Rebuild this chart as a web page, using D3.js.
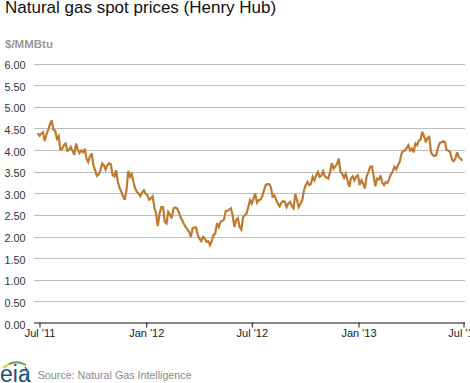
<!DOCTYPE html>
<html><head><meta charset="utf-8">
<style>html,body{margin:0;padding:0;background:#fff;overflow:hidden}svg{display:block}text{font-family:"Liberation Sans",Arial,sans-serif}</style>
<script src="https://cdn.jsdelivr.net/npm/d3@7/dist/d3.min.js"></script>
</head><body><svg id="c" width="470" height="383"></svg>
<script>
const titleText = "Natural gas spot prices (Henry Hub)";
const unitText = "$/MMBtu";
const sourceText = "Source: Natural Gas Intelligence";
const yTicks = [0,0.5,1,1.5,2,2.5,3,3.5,4,4.5,5,5.5,6];
const xTickDates = ["2011-07-01","2012-01-01","2012-07-01","2013-01-01","2013-07-01"];
const xTickLabels = ["Jul '11","Jan '12","Jul '12","Jan '13","Jul '13"];
const firstDate = "2011-06-28";
const stepDays = 3;
const prices = [
4.39,4.33,4.38,4.41,4.21,4.36,4.47,4.59,4.69,4.47,4.45,4.26,4.32,4.01,4.02,4.11,4.15,3.98,4.0,4.07,
3.98,3.89,4.15,4.01,3.93,3.99,3.95,4.03,3.80,3.72,3.85,3.92,3.65,3.53,3.40,3.43,3.53,3.69,3.65,3.55,
3.65,3.69,3.67,3.42,3.39,3.53,3.26,3.13,3.03,2.93,2.85,3.07,3.52,3.38,3.45,3.26,3.11,3.03,2.99,2.93,
3.02,3.07,2.99,2.95,2.85,2.88,2.93,2.68,2.53,2.24,2.53,2.68,2.68,2.34,2.30,2.57,2.51,2.42,2.65,2.67,
2.65,2.57,2.45,2.38,2.29,2.22,2.16,2.11,1.99,2.19,2.21,2.21,2.03,1.95,1.89,1.99,1.95,1.88,1.89,1.80,
1.90,2.03,2.07,2.31,2.22,2.34,2.36,2.39,2.59,2.59,2.62,2.65,2.49,2.22,2.38,2.42,2.22,2.16,2.45,2.49,
2.53,2.68,2.84,2.76,2.88,2.99,2.78,2.84,2.85,2.93,3.07,3.19,3.21,3.21,3.13,2.92,2.95,2.85,2.76,2.70,
2.78,2.82,2.80,2.68,2.76,2.80,2.70,2.65,2.98,2.84,2.68,2.76,2.84,3.07,3.19,3.26,3.19,3.22,3.38,3.30,
3.41,3.49,3.38,3.41,3.51,3.39,3.36,3.34,3.49,3.70,3.57,3.62,3.68,3.80,3.49,3.45,3.36,3.45,3.30,3.15,
3.34,3.39,3.30,3.39,3.42,3.19,3.30,3.22,3.11,3.39,3.49,3.61,3.62,3.41,3.16,3.34,3.32,3.41,3.24,3.19,
3.26,3.24,3.34,3.44,3.51,3.61,3.55,3.65,3.72,3.91,3.98,3.99,4.05,4.11,3.99,4.03,3.95,4.15,4.11,4.22,
4.24,4.42,4.32,4.18,4.28,4.30,3.95,3.88,3.86,3.88,4.05,4.16,4.18,4.20,4.18,4.00,3.99,3.95,3.78,3.74,
3.80,3.95,3.84,3.80,3.75];

const parse = d3.utcParse("%Y-%m-%d");
const start = parse(firstDate);
const series = prices.map((v,i)=>({date:d3.utcDay.offset(start,i*stepDays),value:v}));

const x = d3.scaleUtc().domain([parse(xTickDates[0]),parse(xTickDates[4])]).range([39.5,463.5]);
const y = d3.scaleLinear().domain([0,6]).range([323,63.5]);
const svg = d3.select("#c");

svg.append("text").attr("x",5).attr("y",13).attr("font-size",17).attr("fill","#111").text(titleText);
svg.append("text").attr("x",5).attr("y",48).attr("font-size",11.5).attr("font-weight","bold").attr("fill","#999").text(unitText);

const yg = svg.append("g");
yg.selectAll("line").data(yTicks.filter(d=>d>0)).join("line")
  .attr("x1",34).attr("x2",465).attr("y1",d=>Math.round(y(d))+.5).attr("y2",d=>Math.round(y(d))+.5)
  .attr("stroke","#bdbdbd").attr("stroke-width",1);
yg.selectAll("text").data(yTicks).join("text")
  .attr("x",25.5).attr("text-anchor","end").attr("y",d=>y(d)+5.5).attr("font-size",10.8).attr("fill","#333")
  .text(d=>d3.format(".2f")(d));

const xAxis = d3.axisBottom(x).tickValues(xTickDates.map(parse))
  .tickFormat((d,i)=>xTickLabels[i]).tickSizeInner(5).tickSizeOuter(0).tickPadding(2);
const xg = svg.append("g").attr("transform","translate(0,322.5)").call(xAxis);
xg.select(".domain").attr("d","M34,0.5H465").attr("stroke","#111").attr("stroke-width",1);
xg.selectAll(".tick line").attr("stroke","#111");
xg.selectAll(".tick text").attr("font-size",11).attr("fill","#222").attr("font-family",'"Liberation Sans",Arial,sans-serif');

svg.append("path").datum(series).attr("fill","none").attr("stroke","#c07a30").attr("stroke-width",2.2).attr("stroke-linejoin","miter").attr("stroke-miterlimit",3)
  .attr("d",d3.line().x(d=>x(d.date)).y(d=>y(d.value)));

svg.append("text").attr("x",37.7).attr("y",379).attr("font-size",10.7).attr("fill","#8a8a8a").text(sourceText);

const logo = svg.append("g");
logo.append("text").attr("x",0).attr("y",381.5).attr("font-size",23).attr("font-family",'"Liberation Serif",serif').attr("fill","#1f4e79").text("eia");
logo.append("path").attr("d","M3,368 Q12,360 22,363").attr("fill","none").attr("stroke","#e8c840").attr("stroke-width",2);
logo.append("path").attr("d","M9,364 Q17,360 26,365").attr("fill","none").attr("stroke","#6aa84f").attr("stroke-width",2);
logo.append("path").attr("d","M25,367 Q30,372 26,379").attr("fill","none").attr("stroke","#1f6fa8").attr("stroke-width",1.5);
</script></body></html>
